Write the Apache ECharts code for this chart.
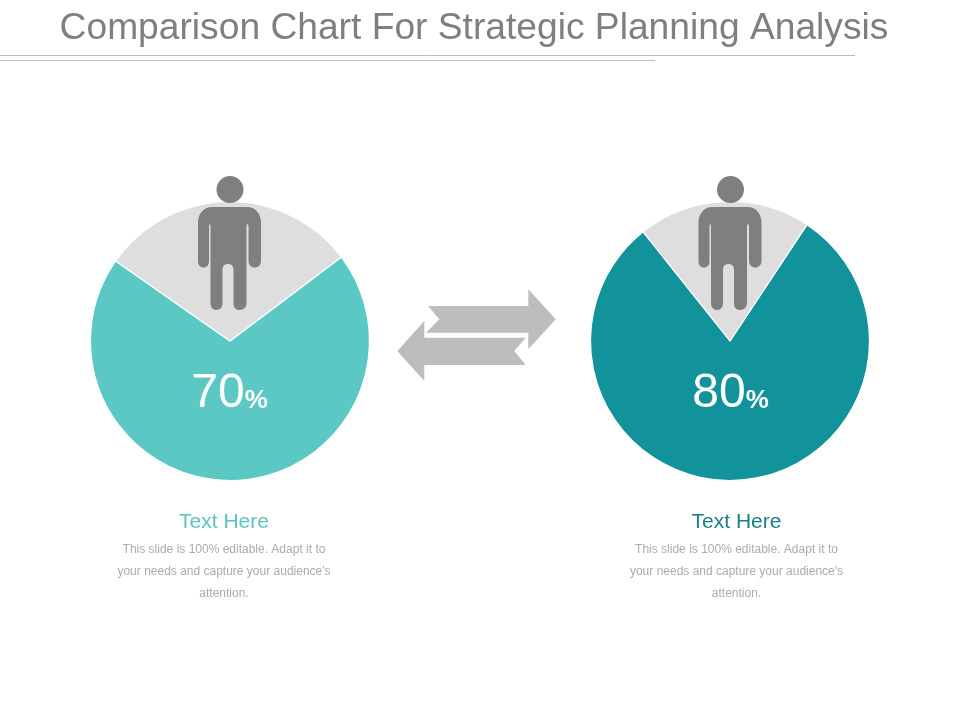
<!DOCTYPE html>
<html><head><meta charset="utf-8">
<style>html,body{margin:0;padding:0;background:#fff}#c{width:960px;height:720px}</style>
<script src="https://cdn.jsdelivr.net/npm/echarts@6/dist/echarts.min.js"></script>
</head><body><div id="c"></div>
<script>
const titleText = 'Comparison Chart For Strategic Planning Analysis';
const sliceNames = ['Share', 'Rest'];
const leftValues = [70, 30];
const rightValues = [80, 20];
const leftColors = ['#5BC8C4', '#DEDEDE'];
const rightColors = ['#12929A', '#DEDEDE'];
const headingText = 'Text Here';
const bodyText = "This slide is 100% editable. Adapt it to\nyour needs and capture your audience's\nattention.";

const personPath = 'M14 0 L49 0 C58 0 63 7 63 16 L63 54 C63 58 60 60.5 57 60.5 C53 60.5 50.5 58 50.5 54 L50.5 20 C50.5 16 48.5 16 48.5 20 L48.5 96 C48.5 100 46 103 41.5 103 C37 103 35.5 100 35.5 96 L35.5 63 C35.5 59 33.5 57 30 57 C26.5 57 24.5 59 24.5 63 L24.5 96 C24.5 100 22.5 103 18.5 103 C14.5 103 12.5 100 12.5 96 L12.5 20 C12.5 16 11 16 11 20 L11 54 C11 58 9 60.5 5.5 60.5 C2 60.5 0 58 0 54 L0 16 C0 7 5 0 14 0 Z';
echarts.graphic.registerShape('personBody', echarts.graphic.extendPath(personPath, {}));

function pie(values, colors, cx, startAngle) {
  return {
    type: 'pie', center: [cx, 341], radius: [0, 139.5], startAngle, clockwise: true,
    silent: true, animation: false, label: { show: false }, labelLine: { show: false },
    itemStyle: { borderColor: '#fff', borderWidth: 1.2 },
    data: values.map((v, i) => ({ name: sliceNames[i], value: v, itemStyle: { color: colors[i] } }))
  };
}
function person(dx) {
  return [
    { type: 'circle', shape: { cx: 230 + dx, cy: 189.5, r: 13.5 }, style: { fill: '#7F7F7F' }, z: 10 },
    { type: 'personBody', x: 198 + dx, y: 207, style: { fill: '#7F7F7F' }, z: 10 }
  ];
}
function pct(v, x) {
  return { type: 'text', z: 11, x, y: 394, style: {
    text: '{a|' + v + '}{b|%}', align: 'center', verticalAlign: 'middle',
    rich: {
      a: { fontFamily: 'Liberation Sans', fontSize: 48, fill: '#fff', color: '#fff' },
      b: { fontFamily: 'Liberation Sans', fontSize: 26, fontWeight: 'bold', fill: '#fff', color: '#fff', padding: [14, 0, 0, 0] }
    } } };
}
function caption(x, color) {
  return [
    { type: 'text', x, y: 522, style: { text: headingText, align: 'center', verticalAlign: 'middle', fontFamily: 'Liberation Sans', fontSize: 21, fill: color } },
    { type: 'text', x, y: 571.5, style: { text: bodyText, align: 'center', verticalAlign: 'middle', lineHeight: 21.7, fontFamily: 'Liberation Sans', fontSize: 12, fill: '#ABABAB' } }
  ];
}
const chart = echarts.init(document.getElementById('c'), null, { renderer: 'canvas' });
chart.setOption({
  animation: false,
  backgroundColor: '#fff',
  title: { text: titleText, left: 469, top: 5, textAlign: 'center',
    textStyle: { fontFamily: 'Liberation Sans', fontSize: 37.2, fontWeight: 'normal', color: '#7F7F7F' } },
  series: [ pie(leftValues, leftColors, 230, 37), pie(rightValues, rightColors, 730, 56.5) ],
  graphic: [
    { type: 'line', shape: { x1: 0, y1: 55.5, x2: 855, y2: 55.5 }, style: { stroke: '#BDBDBD', lineWidth: 1 } },
    { type: 'line', shape: { x1: 0, y1: 60.5, x2: 655, y2: 60.5 }, style: { stroke: '#BDBDBD', lineWidth: 1 } },
    ...person(0), ...person(500.5),
    pct(leftValues[0], 229.5), pct(rightValues[0], 730.5),
    { type: 'polygon', shape: { points: [[428,306],[528.3,306],[528.3,289.3],[555.7,319.3],[528.3,349.3],[528.3,332.7],[426,332.7],[439.3,319.3]] }, style: { fill: '#BDBDBD' } },
    { type: 'polygon', shape: { points: [[397.3,351],[424.3,321],[424.3,337.7],[525.7,337.7],[514.3,351],[525.7,365],[424.3,365],[424.3,381]] }, style: { fill: '#BDBDBD' } },
    ...caption(224, '#5BC4C0'), ...caption(736.5, '#1A8087')
  ]
});
</script></body></html>
